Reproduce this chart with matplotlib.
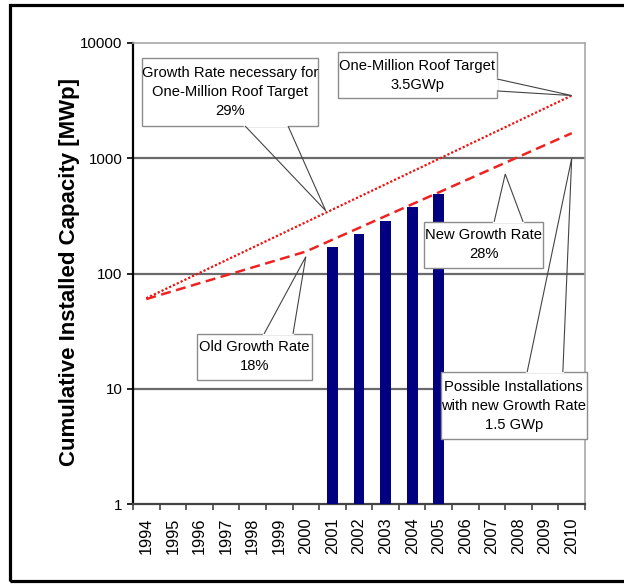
import numpy as np
import matplotlib
matplotlib.use("Agg")
import matplotlib.pyplot as plt
from matplotlib.patches import Rectangle, Polygon
from matplotlib.lines import Line2D

plt.rcParams['font.family'] = ['Liberation Sans', 'DejaVu Sans']

years = [str(y) for y in range(1994, 2011)]

# installed capacity per year [MWp]
bar_years = ['2001', '2002', '2003', '2004', '2005']
bar_values = [170, 220, 285, 375, 490]

# growth paths (straight on log scale)
target_years = ['1994', '2010']
target_values = [61, 3500]
trend_years = ['1994', '2000', '2010']
trend_values = [60, 155, 1650]

fig = plt.figure(figsize=(6.24, 5.86), dpi=100)
ax = fig.add_axes([133 / 624, 1 - 504 / 586, 452 / 624, 461 / 586])

xpos = {y: i for i, y in enumerate(years)}

ax.set_yscale('log')
ax.set_ylim(1, 10000)
ax.set_xlim(-0.5, len(years) - 0.5)

ax.bar([xpos[y] for y in bar_years], bar_values, width=0.41, bottom=1,
       color='#000080', zorder=3)
ax.plot([xpos[y] for y in target_years], target_values, color='#ee1111',
        lw=1.6, linestyle=(0, (1, 0.9)), zorder=4)
ax.plot([xpos[y] for y in trend_years], trend_values, color='#ee2222',
        lw=1.8, linestyle=(0, (4, 2.2)), zorder=4)

# grid / spines
for v in [10, 100, 1000]:
    ax.axhline(v, color='#6a6a6a', lw=1.6, zorder=1)
for s in ['top', 'right']:
    ax.spines[s].set_color('#a8a8a8')
    ax.spines[s].set_linewidth(1.2)
ax.spines['left'].set_color('black')
ax.spines['left'].set_linewidth(1.6)
ax.spines['bottom'].set_color('#444444')
ax.spines['bottom'].set_linewidth(1.6)

ax.set_yticks([1, 10, 100, 1000, 10000])
ax.set_yticklabels(['1', '10', '100', '1000', '10000'])
ax.yaxis.set_minor_locator(matplotlib.ticker.NullLocator())
ax.tick_params(axis='y', which='major', length=4, width=1.2, pad=3.5,
               labelsize=10.8, color='black')

ax.set_xticks(np.arange(-0.5, len(years)), labels=[''] * (len(years) + 1))
ax.set_xticks(np.arange(len(years)), labels=years, minor=True)
ax.tick_params(axis='x', which='major', length=4, width=1.2, color='#444444')
ax.tick_params(axis='x', which='minor', length=0, pad=9.5, labelsize=11.8,
               labelrotation=90)

fig.text(70 / 624, 1 - 272 / 586, 'Cumulative Installed Capacity [MWp]',
         rotation=90, ha='center', va='center', fontsize=16,
         fontweight='bold')

# outer frame
fig.patches.append(Rectangle((10 / 624, 1 - 581 / 586), 1.2, 576 / 586,
                             transform=fig.transFigure, fill=False,
                             ec='black', lw=2.3))

fig.canvas.draw()


def callout(text, box, edge, span, tip):
    x0, x1, y0, y1 = box
    tx, ty = ax.transAxes.inverted().transform(ax.transData.transform(tip))
    ax.add_patch(Rectangle((x0, y0), x1 - x0, y1 - y0, transform=ax.transAxes,
                           fc='white', ec='#8c8c8c', lw=1.0, zorder=5,
                           clip_on=False))
    a, b = span
    if edge == 'bottom':
        p0, p1 = (a, y0), (b, y0)
    elif edge == 'top':
        p0, p1 = (a, y1), (b, y1)
    else:
        p0, p1 = (x1, a), (x1, b)
    ax.add_line(Line2D([p0[0], p1[0]], [p0[1], p1[1]], color='white', lw=1.6,
                       transform=ax.transAxes, zorder=6, clip_on=False))
    ax.add_patch(Polygon([p0, (tx, ty), p1], closed=False, fill=False,
                         ec='#444444', lw=0.8, transform=ax.transAxes,
                         zorder=6, clip_on=False))
    ax.text((x0 + x1) / 2, (y0 + y1) / 2, text, ha='center', va='center',
            transform=ax.transAxes, fontsize=10.6, linespacing=1.45, zorder=7)


callout('Growth Rate necessary for\nOne-Million Roof Target\n29%',
        (0.020, 0.409, 0.820, 0.967), 'bottom', (0.248, 0.343), (6.75, 350))
callout('One-Million Roof Target\n3.5GWp',
        (0.4535, 0.805, 0.881, 0.980), 'right', (0.896, 0.922), (16, 3500))
callout('New Growth Rate\n28%',
        (0.644, 0.907, 0.512, 0.612), 'top', (0.799, 0.863), (13.5, 730))
callout('Old Growth Rate\n18%',
        (0.1416, 0.396, 0.269, 0.369), 'top', (0.290, 0.354), (6.0, 140))
callout('Possible Installations\nwith new Growth Rate\n1.5 GWp',
        (0.681, 1.004, 0.141, 0.286), 'top', (0.872, 0.951), (16, 1000))

fig.savefig('out.png', dpi=100)
